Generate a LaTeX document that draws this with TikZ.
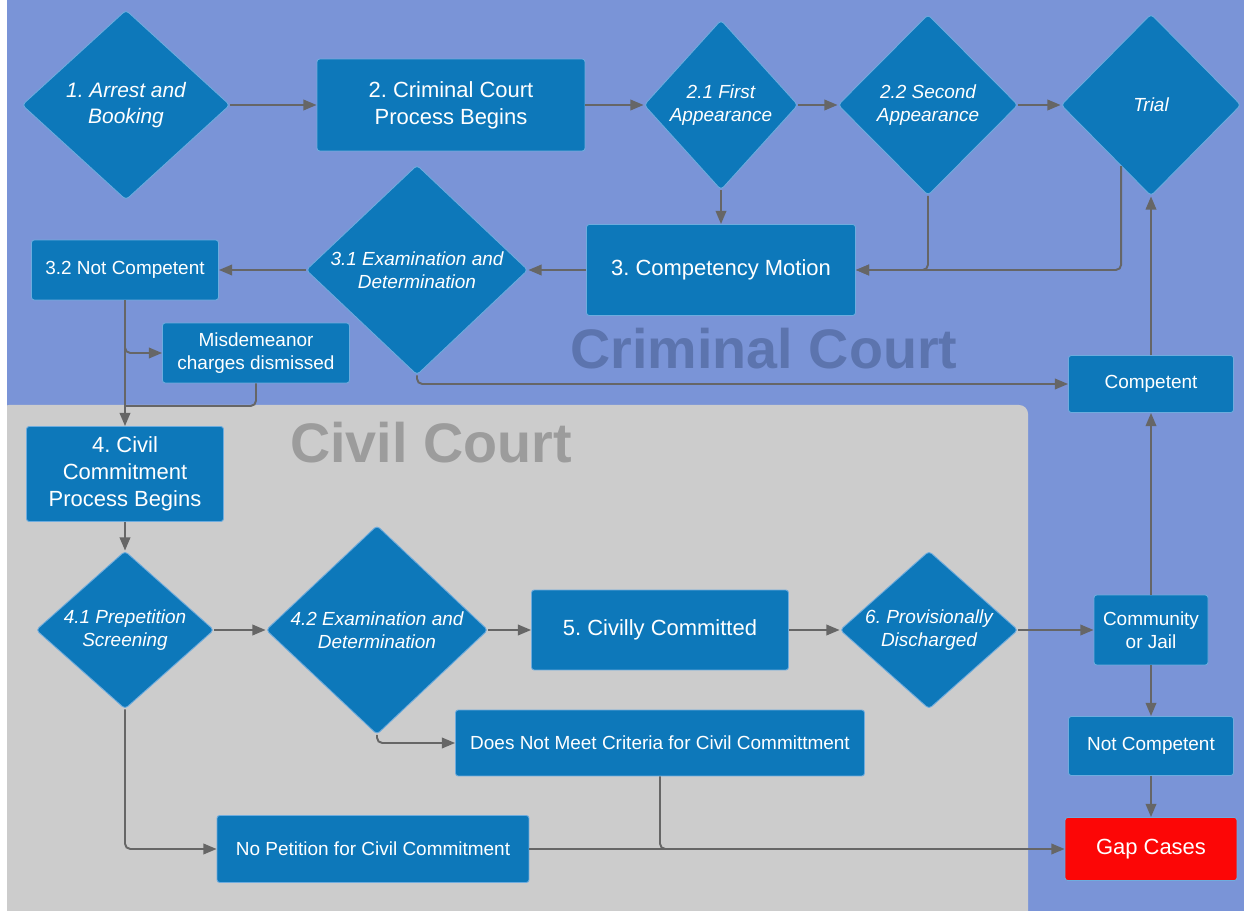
\documentclass[tikz,border=0pt]{standalone}
\usepackage{fontspec}
\setmainfont{Liberation Sans}
\usetikzlibrary{calc,shapes.geometric,arrows.meta}
\definecolor{bgblue}{RGB}{122,148,215}
\definecolor{civgray}{RGB}{204,204,204}
\definecolor{nodeblue}{RGB}{13,120,186}
\definecolor{bordblue}{RGB}{110,172,222}
\definecolor{linegray}{RGB}{102,102,102}
\definecolor{gapred}{RGB}{252,6,6}
\definecolor{crimmark}{RGB}{92,116,174}
\definecolor{civmark}{RGB}{156,156,156}
\def\bigfont{\fontsize{12.5}{15.3}\selectfont}
\def\midfont{\fontsize{11.9}{14.5}\selectfont}
\def\smallfont{\fontsize{10.8}{13}\selectfont}
\def\markfont{\fontsize{31.7}{36}\selectfont\bfseries}
\frenchspacing

\begin{document}
\begin{tikzpicture}[x=0.02cm, y=-0.02cm,
		box/.style={rectangle, rounded corners=1.5pt, fill=nodeblue, draw=bordblue, line width=0.5pt, text=white, align=center, inner sep=0pt, font=\smallfont},
		dia/.style={diamond, rounded corners=2pt, fill=nodeblue, draw=bordblue, line width=0.5pt, text=white, align=center, inner sep=0pt, font=\smallfont\itshape},
		conn/.style={draw=linegray, line width=1.1pt, -{Triangle[length=7.5pt,width=6pt]}, rounded corners=3pt},
		joint/.style={draw=linegray, line width=1.1pt, rounded corners=3pt}]
			%%%%% START %%%%%
			
			\useasboundingbox (0,0) rectangle (1244,911);
			\fill[bgblue] (0,0) rectangle (1244,911);
			\fill[civgray, rounded corners=5pt] (0,405) rectangle (1028,930);
			\fill[white] (0,0) rectangle (7,911);
			
			\node[font=\markfont, text=crimmark, anchor=base] (crimlbl) at (764,369) {Criminal Court};
			\node[font=\markfont, text=civmark, anchor=base] (civlbl) at (431,463) {Civil Court};
			
			\node[dia, minimum width=4.16cm, minimum height=3.8cm, shape aspect=1.1, font=\midfont\itshape] (arr) at (126,105) {1. Arrest and\\Booking};
			\node[box, minimum width=5.36cm, minimum height=1.84cm, font=\bigfont] (crim) at (451,105) {2. Criminal Court\\Process Begins};
			\node[dia, minimum width=3.08cm, minimum height=3.4cm, shape aspect=0.9] (fa) at (721,105) {2.1 First\\Appearance};
			\node[dia, minimum width=3.6cm, minimum height=3.62cm] (sa) at (928,105) {2.2 Second\\Appearance};
			\node[dia, minimum width=3.6cm, minimum height=3.64cm] (trial) at (1151,105) {Trial};
			
			\node[box, minimum width=5.38cm, minimum height=1.82cm, font=\bigfont] (comp) at (721,270) {3. Competency Motion};
			\node[dia, minimum width=4.44cm, minimum height=4.2cm, shape aspect=1.06] (ex1) at (417,270) {3.1 Examination and\\Determination};
			\node[box, minimum width=3.74cm, minimum height=1.2cm] (notc) at (125,270) {3.2 Not Competent};
			\node[box, minimum width=3.74cm, minimum height=1.2cm] (misd) at (256,353) {Misdemeanor\\charges dismissed};
			\node[box, minimum width=3.3cm, minimum height=1.14cm] (cmpt) at (1151,384) {Competent};
			
			\node[box, minimum width=3.94cm, minimum height=1.9cm, font=\bigfont] (civ) at (125,474) {4. Civil\\Commitment\\Process Begins};
			\node[dia, minimum width=3.56cm, minimum height=3.16cm, shape aspect=1.13] (pre) at (125,630) {4.1 Prepetition\\Screening};
			\node[dia, minimum width=4.44cm, minimum height=4.18cm, shape aspect=1.06] (ex2) at (377,630) {4.2 Examination and\\Determination};
			\node[box, minimum width=5.14cm, minimum height=1.6cm, font=\bigfont] (cc) at (660,630) {5. Civilly Committed};
			\node[dia, minimum width=3.56cm, minimum height=3.16cm, shape aspect=1.13] (prov) at (929,630) {6. Provisionally\\Discharged};
			\node[box, minimum width=2.28cm, minimum height=1.4cm] (jail) at (1151,630) {Community\\or Jail};
			\node[box, minimum width=8.18cm, minimum height=1.32cm] (dnm) at (660,743) {Does Not Meet Criteria for Civil Committment};
			\node[box, minimum width=3.3cm, minimum height=1.18cm] (nc2) at (1151,746) {Not Competent};
			\node[box, minimum width=6.24cm, minimum height=1.34cm] (nopet) at (373,849) {No Petition for Civil Commitment};
			\node[box, fill=gapred, minimum width=3.44cm, minimum height=1.26cm, font=\bigfont] (gap) at (1151,849) {Gap Cases};
			
			\coordinate (j1) at (125,406);
			\coordinate (j2) at (700,849);
			
			\draw[conn] (arr.east) -- (crim.west);
			\draw[conn] (crim.east) -- (fa.west);
			\draw[conn] (fa.east) -- (sa.west);
			\draw[conn] (sa.east) -- (trial.west);
			\draw[conn] (fa.south) -- (comp.north);
			\draw[conn] (sa.south) |- (comp.east);
			\draw[conn] ($(trial.south)!0.33!(trial.west)$) |- (comp.east);
			\draw[conn] (comp.west) -- (ex1.east);
			\draw[conn] (ex1.west) -- (notc.east);
			\draw[conn] (ex1.south) |- (cmpt.west);
			\draw[conn] (cmpt.north) -- (trial.south);
			
			\draw[conn] ($(notc.south)+(0,30)$) |- (misd.west);
			\draw[joint] (misd.south) |- (j1);
			\draw[conn] (notc.south) -- (civ.north);
			\draw[conn] (civ.south) -- (pre.north);
			\draw[conn] (pre.east) -- (ex2.west);
			\draw[conn] (ex2.east) -- (cc.west);
			\draw[conn] (cc.east) -- (prov.west);
			\draw[conn] (prov.east) -- (jail.west);
			\draw[conn] (jail.north) -- (cmpt.south);
			\draw[conn] (jail.south) -- (nc2.north);
			\draw[conn] (nc2.south) -- (gap.north);
			\draw[conn] (ex2.south) |- (dnm.west);
			\draw[conn] (pre.south) |- (nopet.west);
			\draw[conn] (nopet.east) -- (gap.west);
			\draw[joint] (dnm.south) |- (j2);
			
			%%%%% END %%%%%
\end{tikzpicture}
\end{document}
